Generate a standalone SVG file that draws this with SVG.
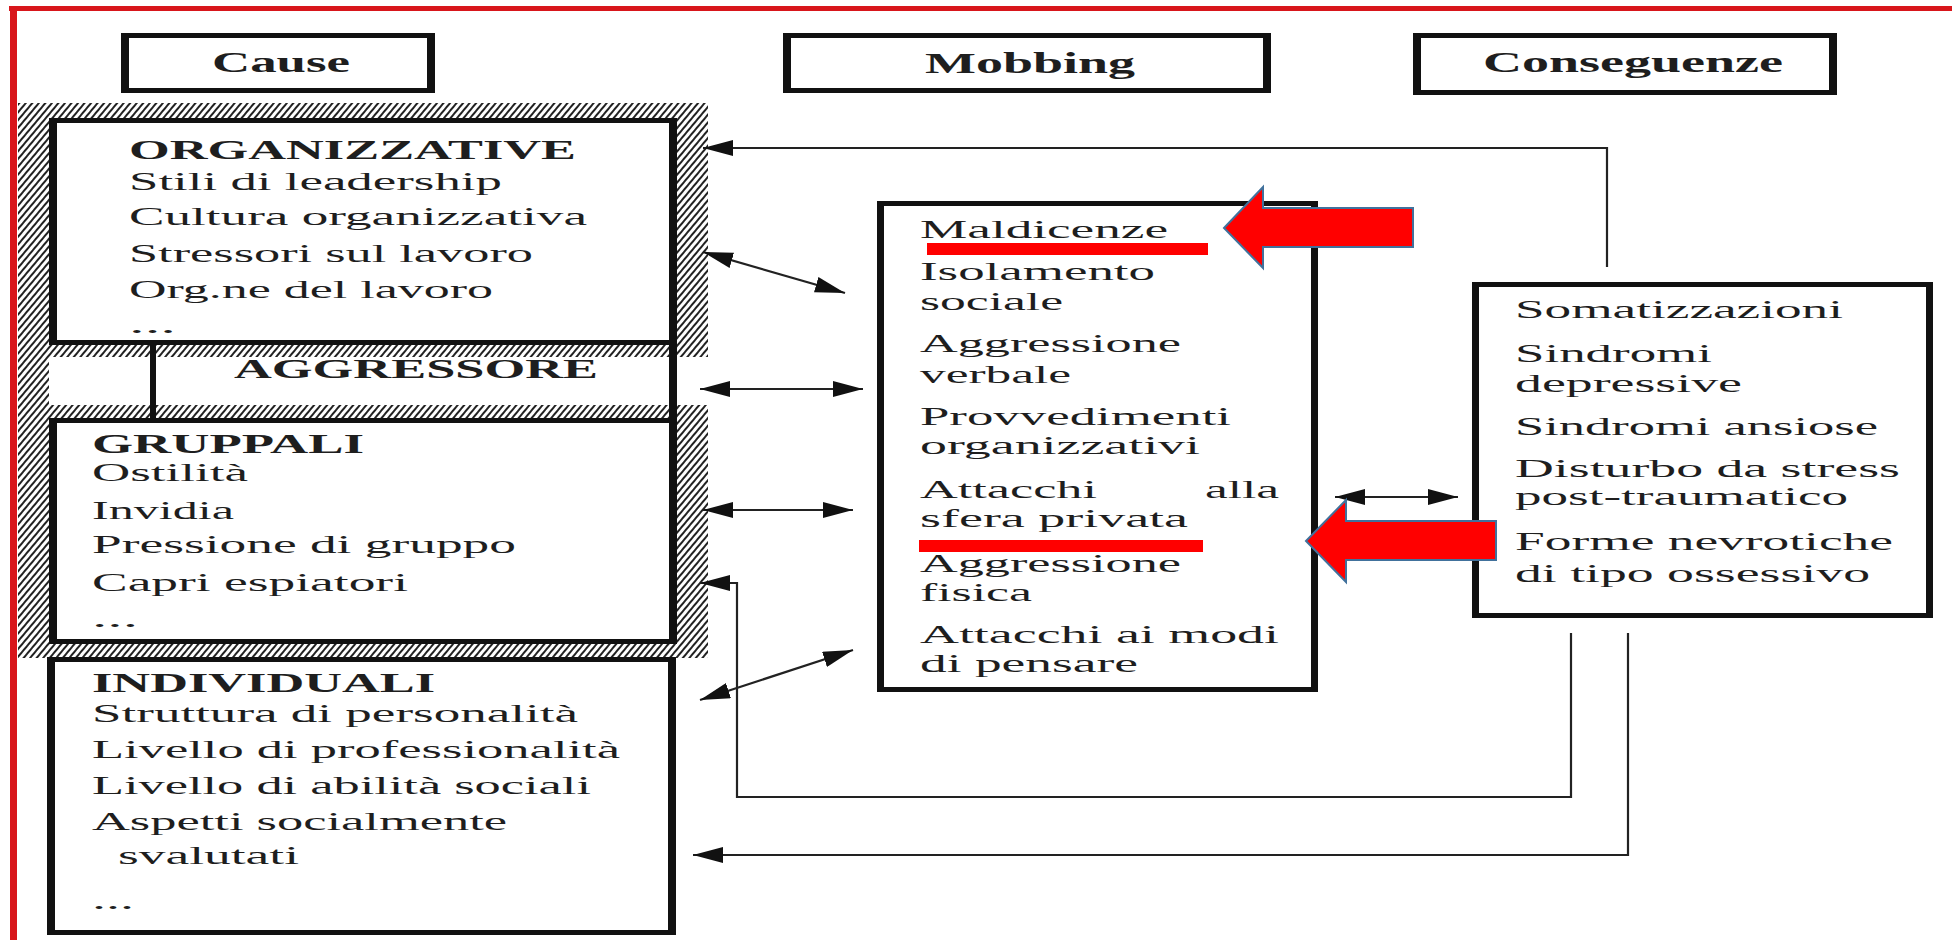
<svg xmlns="http://www.w3.org/2000/svg" width="1952" height="940" viewBox="0 0 1952 940">
<style>
  text { font-family: "Liberation Serif", "Times New Roman", serif; fill: #1e1e1e; font-size: 26px; }
  .b { font-weight: bold; font-size: 27px; }
  .h { font-weight: bold; font-size: 29px; }
  .frame { fill: #111; fill-rule: evenodd; }
  .bg { fill: #fff; }
  .conn { fill: none; stroke: #222; stroke-width: 2.2; }
  .redarrow { fill: #ff0000; stroke: #41719c; stroke-width: 2; stroke-linejoin: miter; }
  .ul { fill: #ff0000; }
</style>
<defs>
  <pattern id="hatch" patternUnits="userSpaceOnUse" width="5" height="5" patternTransform="rotate(40)">
    <rect width="5" height="5" fill="#fff"/>
    <line x1="1" y1="0" x2="1" y2="5" stroke="#222" stroke-width="2"/>
  </pattern>
  <marker id="ah" viewBox="0 0 30 16" refX="30" refY="8" markerWidth="30" markerHeight="16" markerUnits="userSpaceOnUse" orient="auto-start-reverse">
    <path d="M0,0 L30,8 L0,16 Z" fill="#111"/>
  </marker>
</defs>

<rect width="1952" height="940" fill="#fff"/>

<!-- red slide frame -->
<g id="slide-frame">
  <rect x="9" y="6" width="1943" height="5" fill="#d8161b"/>
  <rect x="10" y="6" width="7" height="934" fill="#d8161b"/>
</g>

<!-- column headers -->
<g id="header-cause">
  <rect class="bg" x="121" y="33" width="314" height="60"/>
  <path class="frame" d="M121 33H435V93H121Z M129 38V88H427V38Z"/>
  <text class="h" x="212" y="72" textLength="138" lengthAdjust="spacingAndGlyphs">Cause</text>
</g>
<g id="header-mobbing">
  <rect class="bg" x="783" y="33" width="488" height="60"/>
  <path class="frame" d="M783 33H1271V93H783Z M791 38V88H1263V38Z"/>
  <text class="h" x="925" y="73" textLength="210" lengthAdjust="spacingAndGlyphs">Mobbing</text>
</g>
<g id="header-conseguenze">
  <rect class="bg" x="1413" y="33" width="424" height="62"/>
  <path class="frame" d="M1413 33H1837V95H1413Z M1421 38V90H1829V38Z"/>
  <text class="h" x="1483" y="72" textLength="300" lengthAdjust="spacingAndGlyphs">Conseguenze</text>
</g>

<!-- hatched aggressor block -->
<g id="aggressore-shadow">
  <rect x="18" y="103" width="690" height="555" fill="url(#hatch)"/>
  <rect x="49" y="357" width="659" height="48" fill="#fff"/>
</g>

<g id="organizzative">
  <rect class="bg" x="49" y="118" width="628" height="227"/>
  <path class="frame" d="M49 118H677V345H49Z M57 123V340H669V123Z"/>
  <text class="b" x="129" y="159" textLength="447" lengthAdjust="spacingAndGlyphs">ORGANIZZATIVE</text>
  <text x="129" y="190" textLength="373" lengthAdjust="spacingAndGlyphs">Stili di leadership</text>
  <text x="129" y="225" textLength="458" lengthAdjust="spacingAndGlyphs">Cultura organizzativa</text>
  <text x="129" y="262" textLength="404" lengthAdjust="spacingAndGlyphs">Stressori sul lavoro</text>
  <text x="129" y="298" textLength="364" lengthAdjust="spacingAndGlyphs">Org.ne del lavoro</text>
  <text x="129" y="333" textLength="47" lengthAdjust="spacingAndGlyphs">...</text>
</g>

<g id="aggressore">
  <rect x="150" y="345" width="6" height="73" fill="#111"/>
  <rect x="669" y="345" width="8" height="73" fill="#111"/>
  <text class="b" x="234" y="378" textLength="364" lengthAdjust="spacingAndGlyphs">AGGRESSORE</text>
</g>

<g id="gruppali">
  <rect class="bg" x="49" y="418" width="628" height="226"/>
  <path class="frame" d="M49 418H677V644H49Z M57 423V639H669V423Z"/>
  <text class="b" x="92" y="453" textLength="272" lengthAdjust="spacingAndGlyphs">GRUPPALI</text>
  <text x="92" y="481" textLength="156" lengthAdjust="spacingAndGlyphs">Ostilità</text>
  <text x="92" y="519" textLength="142" lengthAdjust="spacingAndGlyphs">Invidia</text>
  <text x="92" y="553" textLength="424" lengthAdjust="spacingAndGlyphs">Pressione di gruppo</text>
  <text x="92" y="591" textLength="316" lengthAdjust="spacingAndGlyphs">Capri espiatori</text>
  <text x="92" y="627" textLength="46" lengthAdjust="spacingAndGlyphs">...</text>
</g>

<g id="individuali">
  <rect class="bg" x="47" y="657" width="629" height="278"/>
  <path class="frame" d="M47 657H676V935H47Z M55 662V930H668V662Z"/>
  <text class="b" x="92" y="692" textLength="343" lengthAdjust="spacingAndGlyphs">INDIVIDUALI</text>
  <text x="92" y="722" textLength="486" lengthAdjust="spacingAndGlyphs">Struttura di personalità</text>
  <text x="92" y="758" textLength="528" lengthAdjust="spacingAndGlyphs">Livello di professionalità</text>
  <text x="92" y="794" textLength="499" lengthAdjust="spacingAndGlyphs">Livello di abilità sociali</text>
  <text x="92" y="830" textLength="415" lengthAdjust="spacingAndGlyphs">Aspetti socialmente</text>
  <text x="118" y="864" textLength="181" lengthAdjust="spacingAndGlyphs">svalutati</text>
  <text x="92" y="909" textLength="42" lengthAdjust="spacingAndGlyphs">...</text>
</g>

<g id="mobbing-azioni">
  <rect class="bg" x="877" y="201" width="441" height="491"/>
  <path class="frame" d="M877 201H1318V692H877Z M884 206V687H1311V206Z"/>
  <text x="920" y="238" textLength="248" lengthAdjust="spacingAndGlyphs">Maldicenze</text>
  <text x="920" y="280" textLength="235" lengthAdjust="spacingAndGlyphs">Isolamento</text>
  <text x="920" y="310" textLength="143" lengthAdjust="spacingAndGlyphs">sociale</text>
  <text x="920" y="352" textLength="261" lengthAdjust="spacingAndGlyphs">Aggressione</text>
  <text x="920" y="383" textLength="151" lengthAdjust="spacingAndGlyphs">verbale</text>
  <text x="920" y="425" textLength="311" lengthAdjust="spacingAndGlyphs">Provvedimenti</text>
  <text x="920" y="454" textLength="280" lengthAdjust="spacingAndGlyphs">organizzativi</text>
  <text x="920" y="498" textLength="177" lengthAdjust="spacingAndGlyphs">Attacchi</text>
  <text x="1205" y="498" textLength="74" lengthAdjust="spacingAndGlyphs">alla</text>
  <text x="920" y="527" textLength="268" lengthAdjust="spacingAndGlyphs">sfera privata</text>
  <text x="920" y="572" textLength="261" lengthAdjust="spacingAndGlyphs">Aggressione</text>
  <text x="920" y="601" textLength="112" lengthAdjust="spacingAndGlyphs">fisica</text>
  <text x="920" y="643" textLength="359" lengthAdjust="spacingAndGlyphs">Attacchi ai modi</text>
  <text x="920" y="672" textLength="218" lengthAdjust="spacingAndGlyphs">di pensare</text>
</g>

<g id="conseguenze">
  <rect class="bg" x="1472" y="282" width="461" height="336"/>
  <path class="frame" d="M1472 282H1933V618H1472Z M1479 287V613H1926V287Z"/>
  <text x="1515" y="318" textLength="328" lengthAdjust="spacingAndGlyphs">Somatizzazioni</text>
  <text x="1515" y="362" textLength="197" lengthAdjust="spacingAndGlyphs">Sindromi</text>
  <text x="1515" y="392" textLength="227" lengthAdjust="spacingAndGlyphs">depressive</text>
  <text x="1515" y="435" textLength="363" lengthAdjust="spacingAndGlyphs">Sindromi ansiose</text>
  <text x="1515" y="477" textLength="385" lengthAdjust="spacingAndGlyphs">Disturbo da stress</text>
  <text x="1515" y="505" textLength="333" lengthAdjust="spacingAndGlyphs">post-traumatico</text>
  <text x="1515" y="550" textLength="378" lengthAdjust="spacingAndGlyphs">Forme nevrotiche</text>
  <text x="1515" y="582" textLength="355" lengthAdjust="spacingAndGlyphs">di tipo ossessivo</text>
</g>

<g id="connectors">
  <path class="conn" d="M1607 267V148H703" marker-end="url(#ah)"/>
  <path class="conn" d="M703 252L845 293" marker-start="url(#ah)" marker-end="url(#ah)"/>
  <path class="conn" d="M700 389H863" marker-start="url(#ah)" marker-end="url(#ah)"/>
  <path class="conn" d="M703 510H853" marker-start="url(#ah)" marker-end="url(#ah)"/>
  <path class="conn" d="M1571 633V797H737V583H700" marker-end="url(#ah)"/>
  <path class="conn" d="M700 700L853 650" marker-start="url(#ah)" marker-end="url(#ah)"/>
  <path class="conn" d="M1628 633V855H693" marker-end="url(#ah)"/>
  <path class="conn" d="M1335 497H1458" marker-start="url(#ah)" marker-end="url(#ah)"/>
</g>

<g id="highlights">
  <rect class="ul" x="927" y="243" width="281" height="12"/>
  <rect class="ul" x="919" y="540" width="284" height="12"/>
  <path class="redarrow" d="M1224 228L1263 187V208H1413V247H1263V268Z"/>
  <path class="redarrow" d="M1306 541L1346 500V521H1496V560H1346V582Z"/>
</g>
</svg>
